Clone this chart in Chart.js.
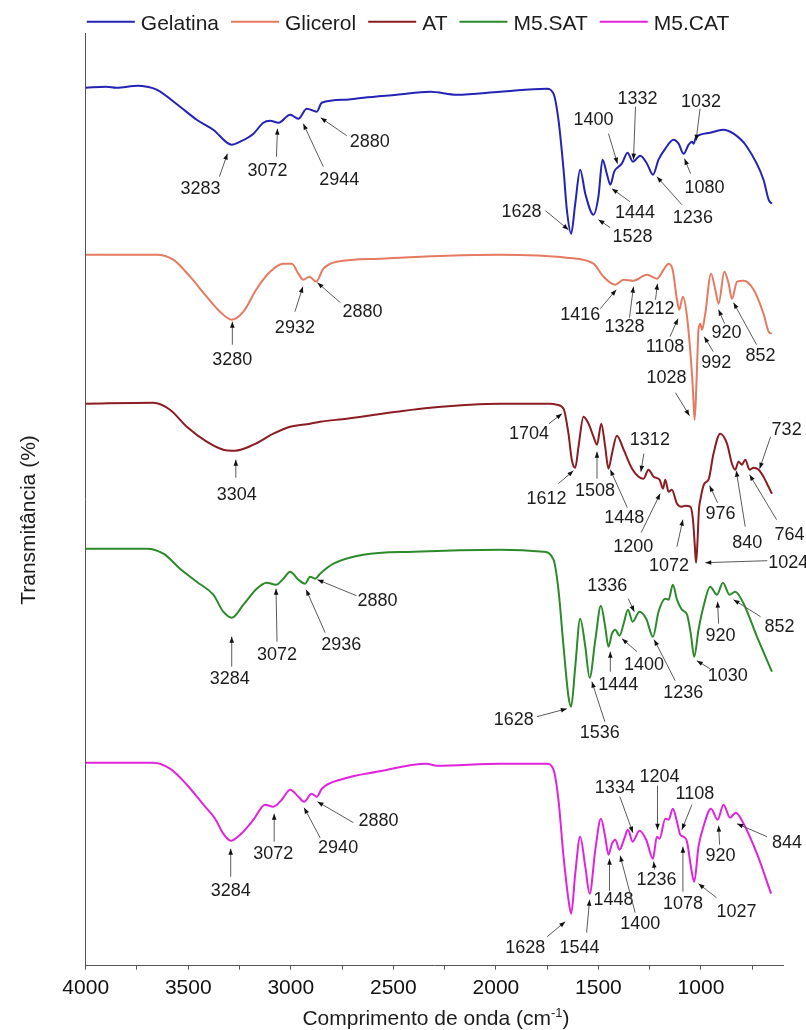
<!DOCTYPE html>
<html>
<head>
<meta charset="utf-8">
<title>FTIR</title>
<script src="https://cdn.jsdelivr.net/npm/chart.js@4.4.1/dist/chart.umd.min.js"></script>
<style>
  html, body { margin: 0; padding: 0; background: #fff; }
</style>
</head>
<body>
<canvas id="ftir" width="806" height="1030"></canvas>
<script>
// ---- data: [wavenumber (cm-1), transmittance (offset, a.u.)] ----
const seriesNames = ['Gelatina', 'Glicerol', 'AT', 'M5.SAT', 'M5.CAT'];

const gelatina = [
  [4000,87.8],[3900,87.9],[3850,87.8],[3745,88.0],[3702,87.9],[3654,87.6],[3540,85.9],[3459,84.6],
  [3378,83.6],[3288,82.1],[3247,82.4],[3182,83.2],[3134,84.3],[3101,84.5],[3060,84.3],[3003,85.1],
  [2963,84.7],[2922,85.7],[2873,85.4],[2849,86.3],[2727,86.6],[2646,86.8],[2483,87.1],[2320,87.4],
  [2190,87.1],[1979,87.4],[1751,87.7],[1719,87.2],[1695,84.6],[1670,79.6],[1654,75.6],[1633,73.2],
  [1613,76.2],[1589,79.6],[1564,77.2],[1524,75.1],[1500,76.9],[1480,80.6],[1459,79.2],[1442,78.1],
  [1423,79.4],[1402,79.9],[1386,80.2],[1358,81.3],[1332,80.4],[1296,81.0],[1263,80.2],[1234,79.1],
  [1207,80.6],[1174,81.7],[1134,82.6],[1109,82.2],[1085,81.2],[1060,82.1],[1045,82.4],[1036,82.2],
  [1025,82.8],[1003,83.1],[955,83.3],[893,83.6],[841,83.2],[776,81.9],[695,78.6],[670,76.6],[654,76.2]
];

const glicerol = [
  [4000,71.1],[3654,71.1],[3573,70.6],[3491,68.9],[3410,66.9],[3345,65.4],[3288,64.6],[3231,65.4],
  [3166,67.7],[3101,69.4],[3036,70.2],[2995,70.2],[2963,69.2],[2939,68.6],[2909,68.9],[2877,68.4],
  [2841,69.7],[2776,70.4],[2564,70.7],[2239,71.0],[1979,71.1],[1654,70.8],[1524,70.2],[1475,68.9],
  [1418,68.1],[1377,68.6],[1329,68.5],[1263,69.1],[1215,68.7],[1182,69.6],[1158,70.2],[1138,69.6],
  [1117,66.6],[1106,65.6],[1088,66.9],[1068,64.9],[1044,59.2],[1038,57.1],[1031,54.6],[1024,57.1],
  [1018,60.6],[1012,63.6],[1003,64.2],[995,63.6],[979,65.2],[951,69.2],[930,67.6],[914,66.2],
  [886,69.4],[865,68.2],[849,66.7],[824,68.4],[792,68.5],[743,67.6],[695,65.2],[670,63.4],[654,63.2]
];

const at = [
  [4000,56.2],[3670,56.3],[3589,55.6],[3507,53.9],[3410,52.4],[3329,51.6],[3272,51.5],[3182,52.1],
  [3085,53.2],[3003,53.9],[2906,54.2],[2857,54.4],[2727,54.7],[2483,55.4],[2320,55.8],[1979,56.2],
  [1735,56.2],[1702,56.1],[1670,55.7],[1646,53.2],[1630,50.6],[1613,49.8],[1597,51.9],[1573,54.9],
  [1548,54.2],[1524,52.9],[1507,52.1],[1486,54.2],[1467,51.9],[1451,49.7],[1434,51.2],[1410,53.0],
  [1377,51.6],[1336,49.7],[1304,48.9],[1280,48.7],[1256,49.6],[1231,48.9],[1202,48.6],[1185,47.7],
  [1174,48.6],[1158,47.4],[1142,47.6],[1117,46.2],[1093,45.9],[1077,46.0],[1052,45.9],[1039,44.6],
  [1030,42.0],[1024,40.3],[1017,42.4],[1010,45.6],[1003,46.6],[984,48.2],[963,48.6],[939,51.2],
  [906,53.2],[873,52.2],[849,50.2],[833,49.6],[817,50.4],[800,50.1],[784,50.6],[763,49.6],
  [743,49.8],[719,49.6],[695,48.9],[678,48.2],[654,47.2]
];

const m5sat = [
  [4000,41.7],[3702,41.7],[3621,41.2],[3540,39.7],[3459,38.4],[3378,37.1],[3329,35.4],[3288,34.8],
  [3231,36.1],[3166,37.7],[3117,38.3],[3072,38.1],[3036,38.7],[3003,39.4],[2963,38.6],[2930,38.2],
  [2906,38.9],[2881,38.7],[2857,39.2],[2792,40.2],[2646,41.1],[2402,41.4],[1979,41.6],[1768,41.4],
  [1719,40.6],[1695,37.6],[1670,31.9],[1646,26.9],[1633,25.9],[1613,29.9],[1589,34.7],[1564,31.9],
  [1543,28.8],[1515,32.6],[1488,36.0],[1467,33.9],[1451,31.9],[1434,33.2],[1418,33.6],[1397,33.0],
  [1377,34.2],[1356,35.6],[1333,34.4],[1300,35.4],[1267,34.7],[1234,32.9],[1207,35.4],[1174,36.7],
  [1158,36.6],[1137,38.1],[1117,36.6],[1093,35.6],[1068,35.1],[1049,33.1],[1033,30.9],[1012,33.6],
  [988,35.9],[955,37.9],[922,37.1],[893,38.3],[861,37.1],[833,37.4],[792,36.2],[727,32.9],[654,29.4]
];

const m5cat = [
  [4000,20.3],[3670,20.3],[3589,19.7],[3507,18.1],[3426,16.1],[3369,14.7],[3329,13.2],[3293,12.5],
  [3247,13.1],[3182,14.6],[3125,16.1],[3085,15.9],[3044,16.6],[3003,17.6],[2963,16.9],[2935,16.4],
  [2898,17.2],[2873,16.9],[2849,17.7],[2743,18.7],[2580,19.4],[2337,20.2],[2288,20.0],[1979,20.2],
  [1751,20.2],[1719,19.6],[1695,16.6],[1670,10.9],[1646,6.6],[1633,5.2],[1613,9.2],[1589,12.9],
  [1564,9.9],[1543,7.2],[1515,11.6],[1488,14.7],[1467,12.9],[1451,11.1],[1434,12.2],[1418,12.6],
  [1397,11.6],[1374,12.7],[1356,13.6],[1333,12.4],[1300,13.5],[1267,12.6],[1234,10.7],[1215,12.9],
  [1202,12.7],[1174,14.7],[1158,14.6],[1137,15.7],[1117,14.4],[1101,13.1],[1085,12.9],[1068,12.4],
  [1049,9.9],[1033,8.4],[1012,11.9],[988,13.9],[951,15.7],[919,14.6],[890,16.1],[858,14.8],
  [830,15.3],[792,14.2],[727,11.2],[658,7.2]
];

// x axis ticks
const majorTicks = [4000, 3500, 3000, 2500, 2000, 1500, 1000];
const minorTicks = [3750, 3250, 2750, 2250, 1750, 1250, 750];

// peak labels: [text, wavenumber at arrow tip, transmittance at arrow tip]
const peaks = [
  ['3283',3309,81.2],['3072',3065,83.7],['2944',2939,84.2],['2880',2854,84.8],['1628',1646,73.6],
  ['1528',1500,74.6],['1444',1434,77.7],['1400',1407,80.2],['1332',1329,80.6],['1236',1215,78.9],
  ['1080',1080,80.7],['1032',1024,82.5],
  ['3280',3285,64.4],['2932',2941,67.9],['2880',2870,68.3],['1416',1413,67.6],['1328',1329,67.9],
  ['1212',1212,68.2],['1108',1112,64.7],['1028',1056,55.0],['992',984,62.9],['920',914,65.6],
  ['852',841,66.3],
  ['3304',3268,50.6],['1704',1678,55.2],['1612',1622,49.5],['1508',1507,51.4],['1448',1442,49.6],
  ['1312',1293,49.4],['1200',1199,47.2],['1072',1088,44.6],['976',958,48.0],['840',828,49.5],
  ['764',763,49.1],['732',714,49.7],['1024',979,40.3],
  ['3284',3288,32.9],['3072',3072,37.7],['2936',2925,37.6],['2880',2870,38.6],['1628',1654,25.7],
  ['1536',1532,28.4],['1444',1442,31.4],['1400',1385,32.7],['1336',1325,35.4],['1236',1228,32.6],
  ['1030',1020,30.5],['920',919,36.4],['852',841,36.6],
  ['3284',3293,11.7],['3072',3081,15.2],['2940',2935,15.8],['2880',2870,16.4],['1628',1662,4.4],
  ['1544',1543,6.6],['1448',1446,10.7],['1400',1394,11.0],['1334',1332,13.3],['1236',1231,10.4],
  ['1204',1212,13.6],['1108',1093,13.6],['1078',1088,11.9],['1027',1012,8.2],['920',914,14.0],
  ['844',824,14.2]
];

// ---- layout / style ----
const seriesColors = ['#2323b5', '#e57a60', '#8a1c22', '#2c8a2a', '#e023dc'];
const FONT = '"Liberation Sans", Arial, Helvetica, sans-serif';

// label centre offset (lx, ly) and arrow start offset (ax, ay), pixels from the arrow tip
const peakLayout = [
  [-27,34,-8,23],[-10,41,-1,28],[36,55,20,43],[49,23,26,18],[-47,-19,-23,-19],
  [34,16,12,8],[23,23,18,13],[-24,-45,-9,-30],[4,-62,2,-53],[36,40,25,28],
  [20,28,6,15],[5,-40,4,-32],
  [0,37,0,23],[-8,40,-8,25],[45,28,23,20],[-36,24,-16,19],[-9,39,-4,31],
  [-3,24,-2,16],[-13,27,-8,18],[-23,-39,-14,-23],[12,25,9,15],[8,22,6,14],
  [27,52,23,42],
  [1,34,0,18],[-33,19,-13,10],[-27,27,-15,13],[-2,38,0,27],[14,47,17,38],
  [9,-33,3,-18],[-27,52,-19,39],[-14,45,-6,27],[11,27,8,17],[11,71,9,56],
  [40,59,27,45],[27,-40,11,-32],[83,-1,62,-2],
  [-2,41,0,30],[1,65,1,53],[35,54,19,43],[60,20,39,16],[-53,10,-30,8],
  [8,50,13,40],[8,32,0,20],[22,25,15,13],[-27,-27,-6,-13],[29,52,21,41],
  [31,14,13,8],[3,33,1,22],[46,26,27,17],
  [0,41,0,28],[-1,39,0,28],[34,39,16,30],[61,18,36,21],[-40,25,-18,15],
  [-10,47,-3,33],[4,40,0,32],[20,67,15,57],[-18,-46,-13,-36],[3,17,1,8],
  [2,-54,0,-44],[13,-37,10,-25],[0,56,0,45],[38,27,18,14],[2,29,1,19],
  [50,18,30,13]
];

const allSeries = [gelatina, glicerol, at, m5sat, m5cat];

// arrows, peak numbers, legend and axis titles
const decorations = {
  id: 'decorations',
  afterDatasetsDraw(chart) {
    const ctx = chart.ctx;
    const xs = chart.scales.x, ys = chart.scales.y;
    ctx.save();
    ctx.font = '18px ' + FONT;
    ctx.textAlign = 'center';
    ctx.textBaseline = 'alphabetic';
    peaks.forEach(function(p, i) {
      const lay = peakLayout[i];
      const tx = xs.getPixelForValue(p[1]);
      const ty = ys.getPixelForValue(p[2]);
      const sx = tx + lay[2], sy = ty + lay[3];
      ctx.strokeStyle = '#5a5a5a';
      ctx.lineWidth = 1;
      ctx.beginPath();
      ctx.moveTo(sx, sy);
      ctx.lineTo(tx, ty);
      ctx.stroke();
      const ang = Math.atan2(ty - sy, tx - sx);
      const c = Math.cos(ang), s = Math.sin(ang);
      ctx.fillStyle = '#111';
      ctx.beginPath();
      ctx.moveTo(tx, ty);
      ctx.lineTo(tx - 6 * c + 2.3 * s, ty - 6 * s - 2.3 * c);
      ctx.lineTo(tx - 6 * c - 2.3 * s, ty - 6 * s + 2.3 * c);
      ctx.closePath();
      ctx.fill();
      ctx.fillStyle = '#1c1c1c';
      ctx.fillText(p[0], tx + lay[0], ty + lay[1] + 6.4);
    });
    ctx.restore();
  },
  afterDraw(chart) {
    const ctx = chart.ctx;
    ctx.save();
    // legend
    ctx.font = '21px ' + FONT;
    ctx.textBaseline = 'alphabetic';
    ctx.textAlign = 'left';
    const items = chart.data.datasets.map(function(d) {
      return { text: d.label, color: d.borderColor, w: ctx.measureText(d.label).width };
    });
    const lineLen = 48, gapIn = 6, gapOut = 12;
    let total = gapOut * (items.length - 1);
    items.forEach(function(it) { total += lineLen + gapIn + it.w; });
    let x = 408 - total / 2;
    items.forEach(function(it) {
      ctx.strokeStyle = it.color;
      ctx.lineWidth = 2;
      ctx.beginPath();
      ctx.moveTo(x, 21.7);
      ctx.lineTo(x + lineLen, 21.7);
      ctx.stroke();
      x += lineLen + gapIn;
      ctx.fillStyle = '#1c1c1c';
      ctx.fillText(it.text, x, 29.5);
      x += it.w + gapOut;
    });

    // x axis title with superscript
    const t1 = 'Comprimento de onda (cm', sup = '-1', t2 = ')';
    ctx.font = '21px ' + FONT;
    const w1 = ctx.measureText(t1).width, w3 = ctx.measureText(t2).width;
    ctx.font = '13px ' + FONT;
    const w2 = ctx.measureText(sup).width;
    let tx = 436 - (w1 + w2 + w3) / 2;
    const base = 1024.5;
    ctx.font = '21px ' + FONT;
    ctx.fillText(t1, tx, base);
    ctx.font = '13px ' + FONT;
    ctx.fillText(sup, tx + w1, base - 8);
    ctx.font = '21px ' + FONT;
    ctx.fillText(t2, tx + w1 + w2, base);

    // y axis title
    ctx.translate(34.5, 520);
    ctx.rotate(-Math.PI / 2);
    ctx.textAlign = 'center';
    ctx.fillText('Transmitância (%)', 0, 0);
    ctx.restore();
  }
};

const chart = new Chart(document.getElementById('ftir'), {
  type: 'line',
  data: {
    datasets: allSeries.map(function(pts, i) {
      return {
        label: seriesNames[i],
        data: pts.map(function(p) { return { x: p[0], y: p[1] }; }),
        borderColor: seriesColors[i],
        borderWidth: 2,
        pointRadius: 0,
        fill: false,
        cubicInterpolationMode: 'monotone'
      };
    })
  },
  options: {
    responsive: false,
    devicePixelRatio: 1,
    animation: false,
    layout: { padding: { left: 85.7, top: 33, right: 23, bottom: 0 } },
    plugins: { legend: { display: false }, tooltip: { enabled: false } },
    scales: {
      x: {
        type: 'linear',
        reverse: true,
        min: 600,
        max: 4000,
        afterBuildTicks: function(axis) {
          axis.ticks = majorTicks.concat(minorTicks)
            .sort(function(a, b) { return b - a; })
            .map(function(v) { return { value: v }; });
        },
        afterFit: function(axis) { axis.height = 64.3; },
        ticks: {
          autoSkip: false,
          maxRotation: 0,
          padding: 6,
          color: '#111',
          font: { family: FONT, size: 21 },
          callback: function(v) { return majorTicks.indexOf(v) >= 0 ? String(v) : ''; }
        },
        grid: { display: true, drawOnChartArea: false, tickLength: 4, color: '#555' },
        border: { display: true, color: '#555', width: 1 }
      },
      y: {
        min: 0,
        max: 93.27,
        afterFit: function(axis) { axis.width = 0; },
        ticks: { display: false },
        grid: { display: false },
        border: { display: true, color: '#555', width: 1 }
      }
    }
  },
  plugins: [decorations]
});
</script>
</body>
</html>
